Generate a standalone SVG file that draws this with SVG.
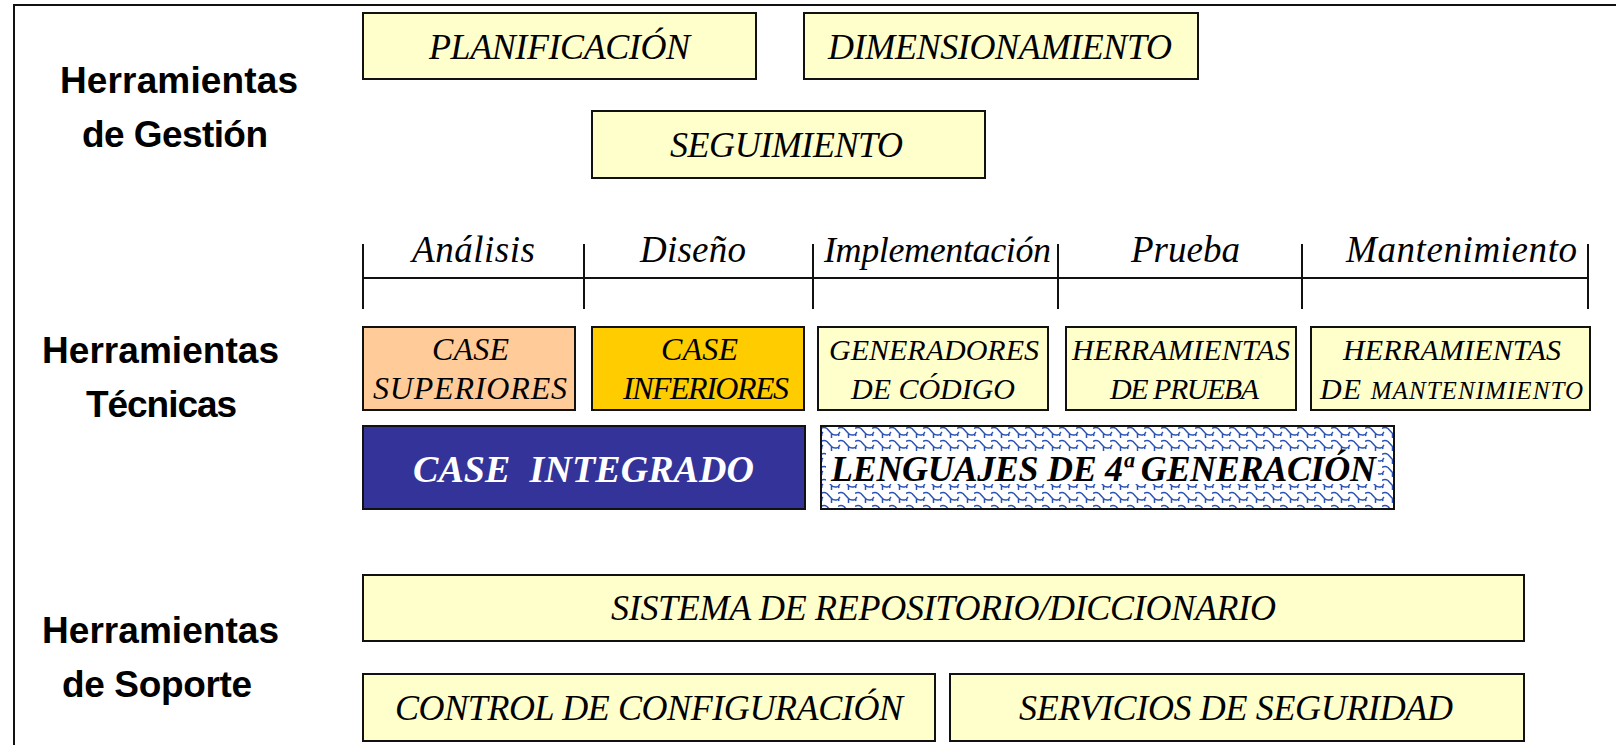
<svg xmlns="http://www.w3.org/2000/svg" width="1616" height="745" viewBox="0 0 1616 745">
<style>
.box{fill:#FFFFCC;stroke:#111;stroke-width:2}
.t{font-family:"Liberation Serif","Times New Roman",serif;font-style:italic;fill:#000}
.lbl{font-family:"Liberation Sans",Arial,sans-serif;font-weight:bold;font-size:37px;fill:#000}
.ln{stroke:#111;stroke-width:2;fill:none}
</style>
<defs>
<pattern id="chain" x="821" y="426" width="17" height="13" patternUnits="userSpaceOnUse">
<rect width="17" height="13" fill="#fff"/>
<path d="M0,2.5 Q3,0.5 6,2.5 L10.5,7.5 Q13,10 17,8.5 M10.5,7.5 L10.5,12 M2,6 Q0,8 1,10" fill="none" stroke="#2a52b5" stroke-width="1.5"/>
</pattern>
</defs>
<rect width="1616" height="745" fill="#fff"/>
<g id="frame">
<path class="ln" d="M14,745 L14,5 L1616,5"/>
</g>
<g id="label-gestion">
<text class="lbl" x="60" y="93" textLength="238">Herramientas</text>
<text class="lbl" x="82" y="147" textLength="186">de Gestión</text>
</g>
<g id="label-tecnicas">
<text class="lbl" x="42" y="363" textLength="237">Herramientas</text>
<text class="lbl" x="86" y="417" textLength="151">Técnicas</text>
</g>
<g id="label-soporte">
<text class="lbl" x="42" y="643" textLength="237">Herramientas</text>
<text class="lbl" x="62" y="697" textLength="190">de Soporte</text>
</g>
<g id="planificacion">
<rect class="box" x="363" y="13" width="393" height="66"/>
<text class="t" x="429" y="59" font-size="36" textLength="261">PLANIFICACIÓN</text>
</g>
<g id="dimensionamiento">
<rect class="box" x="804" y="13" width="394" height="66"/>
<text class="t" x="828" y="59" font-size="36" textLength="344">DIMENSIONAMIENTO</text>
</g>
<g id="seguimiento">
<rect class="box" x="592" y="111" width="393" height="67"/>
<text class="t" x="670" y="157" font-size="36" textLength="233">SEGUIMIENTO</text>
</g>
<g id="connectors">
<path class="ln" d="M363,278 L1588,278"/>
<path class="ln" d="M363,244 L363,309 M584,244 L584,309 M813,244 L813,309 M1058,244 L1058,309 M1302,244 L1302,309 M1588,244 L1588,309"/>
</g>
<g id="fases">
<text class="t" x="412" y="262" font-size="37" textLength="123">Análisis</text>
<text class="t" x="640" y="262" font-size="37" textLength="106">Diseño</text>
<text class="t" x="824" y="262" font-size="36" textLength="227">Implementación</text>
<text class="t" x="1131" y="262" font-size="37" textLength="109">Prueba</text>
<text class="t" x="1346" y="262" font-size="37" textLength="231">Mantenimiento</text>
</g>
<g id="case-superiores">
<rect x="363" y="327" width="212" height="83" fill="#FFCC99" stroke="#111" stroke-width="2"/>
<text class="t" x="432" y="360" font-size="32" textLength="77">CASE</text>
<text class="t" x="373" y="399" font-size="32" textLength="194">SUPERIORES</text>
</g>
<g id="case-inferiores">
<rect x="592" y="327" width="212" height="83" fill="#FFCC00" stroke="#111" stroke-width="2"/>
<text class="t" x="661" y="360" font-size="32" textLength="77">CASE</text>
<text class="t" x="623" y="399" font-size="32" textLength="166">INFERIORES</text>
</g>
<g id="generadores">
<rect class="box" x="818" y="327" width="230" height="83"/>
<text class="t" x="829" y="360" font-size="30" textLength="210">GENERADORES</text>
<text class="t" x="851" y="399" font-size="30" textLength="164">DE CÓDIGO</text>
</g>
<g id="herr-prueba">
<rect class="box" x="1066" y="327" width="230" height="83"/>
<text class="t" x="1072" y="360" font-size="30" textLength="218">HERRAMIENTAS</text>
<text class="t" x="1110" y="399" font-size="30" textLength="149">DE PRUEBA</text>
</g>
<g id="herr-mantenimiento">
<rect class="box" x="1311" y="327" width="279" height="83"/>
<text class="t" x="1343" y="360" font-size="30" textLength="218">HERRAMIENTAS</text>
<text class="t" x="1320" y="399" font-size="30" textLength="263">DE <tspan font-size="25">MANTENIMIENTO</tspan></text>
</g>
<g id="case-integrado">
<rect x="363" y="426" width="442" height="83" fill="#333399" stroke="#111" stroke-width="2"/>
<text class="t" x="413" y="482" font-size="38" font-weight="bold" fill="#fff" style="fill:#fff" textLength="341" xml:space="preserve">CASE  INTEGRADO</text>
</g>
<g id="lenguajes-4g">
<rect x="821" y="426" width="573" height="83" fill="url(#chain)" stroke="#111" stroke-width="2"/>
<rect x="826" y="451" width="552" height="33" fill="#fff"/>
<text class="t" x="831" y="481" font-size="36" font-weight="bold" textLength="545">LENGUAJES DE 4ª GENERACIÓN</text>
</g>
<g id="repositorio">
<rect class="box" x="363" y="575" width="1161" height="66"/>
<text class="t" x="611" y="620" font-size="36" textLength="665">SISTEMA DE REPOSITORIO/DICCIONARIO</text>
</g>
<g id="control-configuracion">
<rect class="box" x="363" y="674" width="572" height="67"/>
<text class="t" x="395" y="720" font-size="36" textLength="508">CONTROL DE CONFIGURACIÓN</text>
</g>
<g id="servicios-seguridad">
<rect class="box" x="950" y="674" width="574" height="67"/>
<text class="t" x="1019" y="720" font-size="36" textLength="434">SERVICIOS DE SEGURIDAD</text>
</g>
</svg>
